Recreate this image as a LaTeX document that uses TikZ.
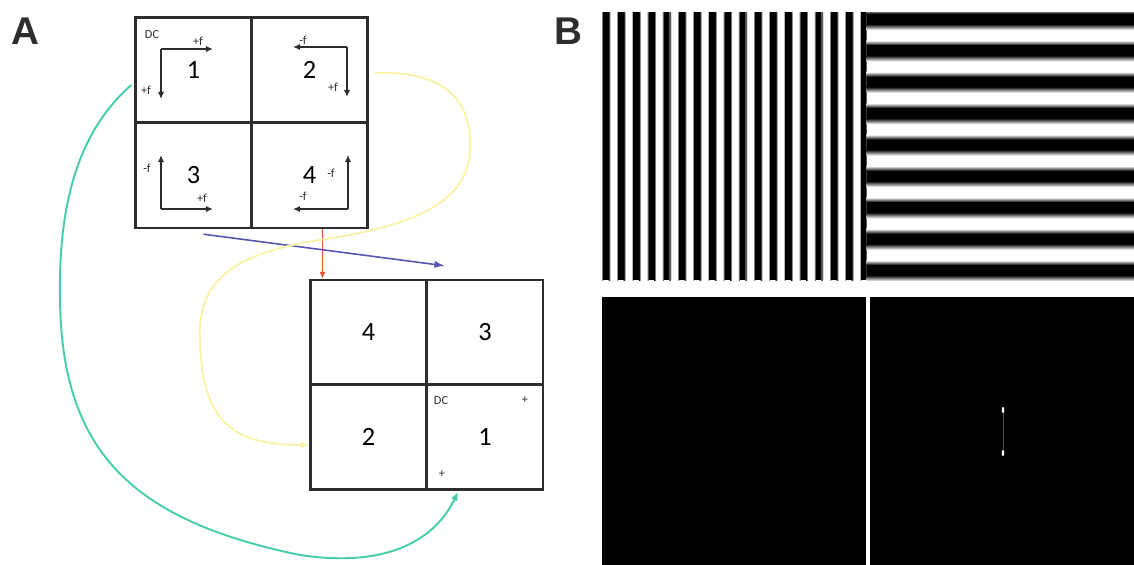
\documentclass[tikz,border=0pt]{standalone}
\usepackage{fontspec}
\setmainfont{Carlito}
\newfontfamily\panelfont{Liberation Sans}
\usetikzlibrary{positioning,calc,arrows.meta}
\definecolor{quadline}{RGB}{45,45,45}
\definecolor{shiftblue}{RGB}{85,85,175}
\definecolor{shiftred}{RGB}{225,85,40}
\definecolor{swapyellow}{RGB}{249,243,170}
\definecolor{swapteal}{RGB}{70,205,170}

\tikzset{
  cell/.style={draw=quadline, line width=1.4pt, minimum width=2.32cm, minimum height=2.1cm, inner sep=0pt, font=\fontsize{15}{18}\selectfont},
  freq/.style={-{Latex[length=4pt,width=3.5pt]}, line width=0.7pt, quadline},
  tag/.style={font=\fontsize{7}{8}\selectfont, inner sep=0pt, text=quadline},
  panel/.style={font=\panelfont\bfseries\fontsize{22}{26}\selectfont, text=quadline},
  swap/.style={line width=1.1pt, -{Latex[length=5pt,width=4pt]}},
}

\begin{document}
\begin{tikzpicture}[x=0.02cm, y=-0.02cm]
    \useasboundingbox (0,0) rectangle (1134,565);

    % Panel letters
    \node[panel] (lblA) at (25,31) {A};
    \node[panel] (lblB) at (568,31) {B};

    % Raw spectrum quadrants
    \node[cell] (t1) at (193.5,70) {1};
    \node[cell] (t2) at (309.5,70) {2};
    \node[cell] (t3) at (193.5,175.5) {3};
    \node[cell] (t4) at (309.5,175.5) {4};

    % Frequency axes in each quadrant
    \draw[freq] (161,49) -- (213,49);
    \draw[freq] (161,49) -- (161,99);
    \draw[freq] (347,47) -- (293,47);
    \draw[freq] (347,47) -- (347,97);
    \draw[freq] (161,209) -- (213,209);
    \draw[freq] (161,209) -- (161,155);
    \draw[freq] (348,209) -- (293,209);
    \draw[freq] (348,209) -- (348,155);

    \node[tag] (dcT) at (152,35) {DC};
    \node[tag] (f1h) at (198,41) {+f};
    \node[tag] (f1v) at (146,90) {+f};
    \node[tag] (f2h) at (303,40) {-f};
    \node[tag] (f2v) at (333,87) {+f};
    \node[tag] (f3v) at (147,168) {-f};
    \node[tag] (f3h) at (202,198) {+f};
    \node[tag] (f4h) at (303,196) {-f};
    \node[tag] (f4v) at (331,173) {-f};

    % Shifted spectrum quadrants
    \node[cell] (b4) at (368.5,332.5) {4};
    \node[cell] (b3) at (485,332.5) {3};
    \node[cell] (b2) at (368.5,437) {2};
    \node[cell] (b1) at (485,437) {1};

    \node[tag] (dcB) at (441,401) {DC};
    \node[tag] (pB1) at (525,400) {+};
    \node[tag] (pB2) at (442,474) {+};

    % Quadrant swaps
    \coordinate (redS) at ($(t4.south)+(13,0)$);
    \draw[shiftred, line width=0.9pt, -{Latex[length=4pt,width=3.5pt]}] (redS) -- (redS |- b4.north);
    \draw[shiftblue, line width=0.9pt, -{Latex[length=6pt,width=4pt]}] ($(t3.south)+(10,5)$) -- ($(b3.north)+(-40,-13)$);
    \draw[swap, swapyellow] ($(t2.east)+(6,3)$) .. controls (450,70) and (472,105) .. (470,150)
        .. controls (468,200) and (420,225) .. (320,240)
        .. controls (220,255) and (198,290) .. (200,340)
        .. controls (202,420) and (230,445) .. ($(b2.west)+(0,8)$);
    \draw[swap, swapteal] ($(t1.west)+(-3,15)$) .. controls (80,130) and (58,200) .. (60,300)
        .. controls (62,450) and (130,520) .. (300,555)
        .. controls (400,570) and (440,530) .. ($(b1.south)+(-27,1)$);

    % Gratings
    \begin{scope}
        \clip (602,12) rectangle (866.5,280);
        \fill[white] (602,12) rectangle (867,280);
        \foreach \k in {0,...,17} {
            \shade[left color=white, right color=black] ({601+15.2*\k},12) rectangle ++(2,268);
            \fill[black] ({603+15.2*\k},12) rectangle ++(5.5,268);
            \shade[left color=black, right color=white] ({608.5+15.2*\k},12) rectangle ++(2,268);
        }
    \end{scope}
    \begin{scope}
        \clip (866.5,12) rectangle (1134,280);
        \foreach \k in {0,...,8} {
            \shade[top color=white, bottom color=black] (866,{9+31.4*\k}) rectangle (1134,{14+31.4*\k});
            \fill[black] (866,{14+31.4*\k}) rectangle (1134,{24+31.4*\k});
            \shade[top color=black, bottom color=white] (866,{24+31.4*\k}) rectangle (1134,{30+31.4*\k});
        }
    \end{scope}

    % Spectra
    \fill[black] (602,297) rectangle (866,565);
    \fill[black] (870,297) rectangle (1134,565);
    \draw[black!70, line width=0.4pt] (1003,413) -- (1003,450);
    \fill[white] (1003,410) ellipse (1.3 and 3);
    \fill[white] (1003,453) ellipse (1.3 and 3);
\end{tikzpicture}
\end{document}
